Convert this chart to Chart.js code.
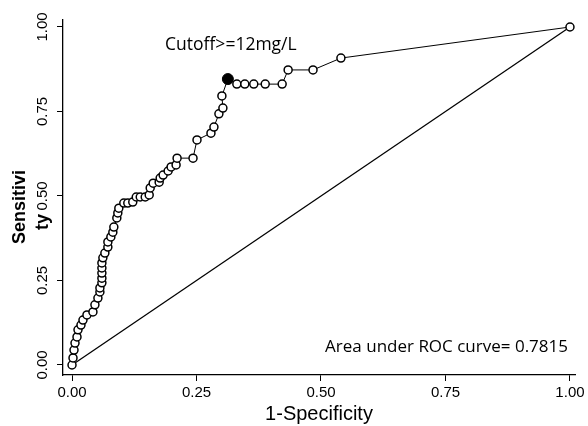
<!DOCTYPE html>
<html>
<head>
<meta charset="utf-8">
<script src="https://cdn.jsdelivr.net/npm/chart.js@4"></script>
<style>
    body { margin: 0; background: #fff; }
    #wrap { width: 588px; height: 426px; }
</style>
</head>
<body>
<div id="wrap"><canvas id="rocChart"></canvas></div>
<script>
// ROC curve
const fpr = [0, 0.002, 0.004, 0.006, 0.010, 0.012, 0.018, 0.022, 0.030, 0.042,
    0.046, 0.052, 0.056, 0.056, 0.060, 0.060, 0.060, 0.060, 0.060, 0.062,
    0.066, 0.072, 0.072, 0.078, 0.082, 0.084, 0.090, 0.092, 0.094, 0.104,
    0.112, 0.122, 0.129, 0.137, 0.147, 0.155, 0.157, 0.163, 0.175, 0.177,
    0.183, 0.193, 0.199, 0.209, 0.211, 0.243, 0.251, 0.279, 0.285, 0.295,
    0.303, 0.301, 0.313, 0.331, 0.347, 0.365, 0.388, 0.422, 0.434, 0.484,
    0.540, 1.0];
const tpr = [0, 0.021, 0.044, 0.065, 0.083, 0.104, 0.118, 0.133, 0.148, 0.157,
    0.178, 0.198, 0.216, 0.228, 0.243, 0.257, 0.272, 0.287, 0.302, 0.317,
    0.331, 0.349, 0.364, 0.379, 0.393, 0.408, 0.435, 0.450, 0.464, 0.479,
    0.479, 0.482, 0.497, 0.497, 0.497, 0.503, 0.524, 0.538, 0.541, 0.553,
    0.562, 0.574, 0.586, 0.592, 0.612, 0.612, 0.666, 0.686, 0.704, 0.743,
    0.760, 0.796, 0.846, 0.831, 0.831, 0.831, 0.831, 0.831, 0.873, 0.873,
    0.908, 1.0];
const cutoffPoint = [0.313, 0.846];
const diagonal = [0, 1];
const tickValues = [0, 0.25, 0.5, 0.75, 1];

const cutoffLabel = 'Cutoff>=12mg/L';
const aucLabel = 'Area under ROC curve= 0.7815';
const yTitle = ['Sensitivi', 'ty'];

const rocPoints = fpr.map((x, i) => ({ x: x, y: tpr[i] }));

// text that is not part of the axes
const extraText = {
    id: 'extraText',
    afterDraw(chart) {
        const ctx = chart.ctx;
        const xs = chart.scales.x, ys = chart.scales.y;
        ctx.save();
        ctx.fillStyle = '#000';
        ctx.textBaseline = 'middle';

        ctx.font = '17.5px "Open Sans"';
        ctx.textAlign = 'center';
        ctx.fillText(cutoffLabel, xs.getPixelForValue(0.319), ys.getPixelForValue(0.947));

        ctx.font = '17px "Open Sans"';
        ctx.textAlign = 'right';
        ctx.fillText(aucLabel, xs.getPixelForValue(0.996), ys.getPixelForValue(0.053));

        // y title, two lines, rotated
        ctx.font = 'bold 18px "Liberation Sans"';
        ctx.textAlign = 'center';
        ctx.translate(20, 207);
        ctx.rotate(-Math.PI / 2);
        ctx.fillText(yTitle[0], 0, 0);
        ctx.fillText(yTitle[1], -15, 23);
        ctx.restore();
    }
};

new Chart(document.getElementById('rocChart').getContext('2d'), {
    type: 'scatter',
    data: {
        datasets: [{
            label: 'Cutoff',
            data: [{ x: cutoffPoint[0], y: cutoffPoint[1] }],
            pointRadius: 5.5,
            pointBackgroundColor: '#000',
            pointBorderColor: '#000',
            showLine: false,
        }, {
            label: 'ROC',
            data: rocPoints,
            showLine: true,
            borderColor: '#000',
            borderWidth: 1,
            tension: 0,
            pointRadius: 4,
            pointBorderWidth: 1.5,
            pointBackgroundColor: '#fff',
            pointBorderColor: '#000',
        }, {
            label: 'Reference',
            data: diagonal.map(v => ({ x: v, y: v })),
            showLine: true,
            borderColor: '#000',
            borderWidth: 1.3,
            pointRadius: 0,
        }]
    },
    options: {
        responsive: true,
        maintainAspectRatio: false,
        animation: false,
        layout: { padding: { left: 0, right: 13, top: 20, bottom: 0 } },
        plugins: {
            legend: { display: false },
            tooltip: { enabled: false },
        },
        scales: {
            x: {
                type: 'linear',
                min: -0.0181,
                max: 1.0101,
                afterBuildTicks: s => { s.ticks = tickValues.map(v => ({ value: v })); },
                afterFit: s => { s.height = 51; },
                grid: { drawOnChartArea: false, tickLength: 6, color: '#000', tickWidth: 1 },
                border: { display: true, color: '#000', width: 1.3 },
                ticks: {
                    color: '#000',
                    padding: 3,
                    maxRotation: 0,
                    font: { family: 'Liberation Sans', size: 15 },
                    callback: v => v.toFixed(2),
                },
                title: {
                    display: true,
                    text: '1-Specificity',
                    color: '#000',
                    font: { family: 'Liberation Sans', size: 20 },
                    padding: { top: 0, bottom: 0 },
                },
            },
            y: {
                type: 'linear',
                min: -0.0296,
                max: 1.0207,
                afterBuildTicks: s => { s.ticks = tickValues.map(v => ({ value: v })); },
                afterFit: s => { s.width = 63; },
                grid: { drawOnChartArea: false, tickLength: 6, color: '#000', tickWidth: 1 },
                border: { display: true, color: '#000', width: 1.3 },
                ticks: {
                    color: '#000',
                    padding: 0,
                    minRotation: 90,
                    maxRotation: 90,
                    crossAlign: 'center',
                    font: { family: 'Liberation Sans', size: 15 },
                    callback: v => v.toFixed(2),
                },
            },
        },
    },
    plugins: [extraText],
});
</script>
</body>
</html>
